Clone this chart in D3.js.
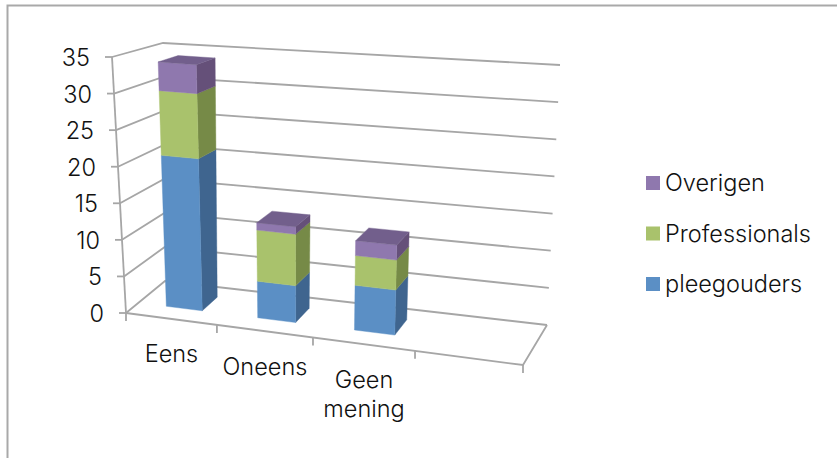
<!DOCTYPE html>
<html>
<head>
<meta charset="utf-8">
<script src="https://cdn.jsdelivr.net/npm/d3@7"></script>
<style>
  html, body { margin: 0; padding: 0; background: #fff; }
  text { font-family: Inter, sans-serif; font-weight: 300; fill: #111; font-size: 23.5px; }
</style>
</head>
<body>
<div id="plot"></div>
<script>
// values
const categories = ["Eens", "Oneens", "Geen mening", ""];
const pleegouders = [21, 5, 6];
const professionals = [9, 7, 4];
const overigen = [4, 1, 2];
const yTicks = [0, 5, 10, 15, 20, 25, 30, 35];
const seriesNames = ["pleegouders", "Professionals", "Overigen"];

const width = 837, height = 458;
const svg = d3.select("#plot").append("svg")
  .attr("width", width)
  .attr("height", height)
  .style("display", "block");

// frame
svg.append("path")
  .attr("d", `M7.5,${height} V5.5 H${width}`)
  .attr("fill", "none")
  .attr("stroke", "#a9a9a9")
  .attr("stroke-width", 2);

// the four upright edges of the 3D box, as scales of the value
const frontLeftX = d3.scaleLinear().domain([0, 35]).range([126, 112]);
const frontLeftY = d3.scaleLinear().domain([0, 35]).range([313, 57]);
const frontRightX = d3.scaleLinear().domain([0, 35]).range([523, 538]);
const frontRightY = d3.scaleLinear().domain([0, 35]).range([365, 92]);
const backLeftX = d3.scaleLinear().domain([0, 35]).range([165, 163]);
const backLeftY = d3.scaleLinear().domain([0, 35]).range([281, 43]);
const backRightX = d3.scaleLinear().domain([0, 35]).range([547, 560]);
const backRightY = d3.scaleLinear().domain([0, 35]).range([325, 65]);

// category position along the floor, bands get wider to the front right
const catScale = d3.scaleLinear().domain([0, 1, 2, 3, 4]).range([0, 0.229, 0.471, 0.728, 1]);

// c = category position, v = value, w = depth (0 front, 1 back)
function project(c, v, w) {
  const a = catScale(c);
  const fx = frontLeftX(v) + a * (frontRightX(v) - frontLeftX(v));
  const fy = frontLeftY(v) + a * (frontRightY(v) - frontLeftY(v));
  const bx = backLeftX(v) + a * (backRightX(v) - backLeftX(v));
  const by = backLeftY(v) + a * (backRightY(v) - backLeftY(v));
  return [fx + w * (bx - fx), fy + w * (by - fy)];
}

const polyLine = d3.line();
const gridColor = "#a6a6a6";

function wallLine(points, sw) {
  svg.append("path")
    .attr("d", polyLine(points))
    .attr("fill", "none")
    .attr("stroke", gridColor)
    .attr("stroke-width", sw || 1.8);
}

// gridlines over left wall and back wall
yTicks.forEach(t => {
  wallLine([project(0, t, 0), project(0, t, 1), project(4, t, 1)]);
});
wallLine([project(0, 0, 0), project(0, 35, 0)]);

// floor
wallLine([project(0, 0, 0), project(4, 0, 0), project(4, 0, 1)]);

// ticks
yTicks.forEach(t => {
  const p = project(0, t, 0);
  wallLine([[p[0] - 7, p[1]], p]);
});
d3.range(0, 5).forEach(c => {
  const p = project(c, 0, 0);
  wallLine([p, [p[0], p[1] + 8]]);
});

// y labels
svg.append("g").selectAll("text")
  .data(yTicks)
  .enter()
  .append("text")
  .attr("x", d => project(0, d, 0)[0] - 22)
  .attr("y", d => project(0, d, 0)[1] + 9)
  .attr("text-anchor", "end")
  .text(d => d);

// category labels
categories.forEach((name, i) => {
  const p = project(i + 0.5, 0, 0);
  name.split(" ").forEach((word, j) => {
    svg.append("text")
      .attr("x", p[0])
      .attr("y", p[1] + 43.5 + j * 29)
      .attr("text-anchor", "middle")
      .text(word);
  });
});

// stacked bars
const colors = [
  { front: "#5b8fc5", side: "#3f658f", top: "#4a76a8" },
  { front: "#a9c26c", side: "#768a47", top: "#8ba257" },
  { front: "#8f78ae", side: "#655079", top: "#725f8c" }
];
const stacked = [pleegouders, professionals, overigen];
const barLeft = 0.31, barRight = 0.71, barFront = 0.32, barBack = 0.73;

function face(points, fill) {
  svg.append("path")
    .attr("d", polyLine(points) + "Z")
    .attr("fill", fill)
    .attr("stroke", fill)
    .attr("stroke-width", 0.4);
}

pleegouders.forEach((_, i) => {
  let base = 0;
  const x0 = i + barLeft, x1 = i + barRight;
  stacked.forEach((serie, s) => {
    const tp = base + serie[i];
    face([project(x1, base, barFront), project(x1, base, barBack), project(x1, tp, barBack), project(x1, tp, barFront)], colors[s].side);
    face([project(x0, base, barFront), project(x1, base, barFront), project(x1, tp, barFront), project(x0, tp, barFront)], colors[s].front);
    if (s === stacked.length - 1) {
      face([project(x0, tp, barFront), project(x1, tp, barFront), project(x1, tp, barBack), project(x0, tp, barBack)], colors[s].top);
    }
    base = tp;
  });
});

// legend
const legendY = d3.scalePoint().domain(seriesNames).range([284, 183]);
seriesNames.forEach((name, s) => {
  svg.append("rect")
    .attr("x", 646)
    .attr("y", legendY(name) - 7)
    .attr("width", 14)
    .attr("height", 14)
    .attr("fill", colors[s].front);
  svg.append("text")
    .attr("x", 665)
    .attr("y", legendY(name) + 8)
    .text(name);
});
</script>
</body>
</html>
